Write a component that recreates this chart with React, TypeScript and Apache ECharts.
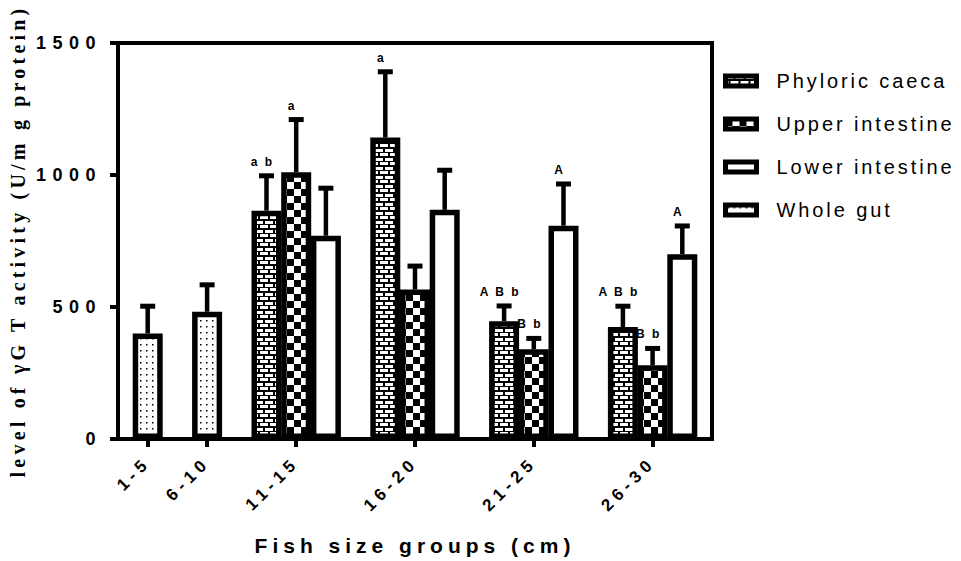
import React, { useEffect, useRef } from 'react';
import * as echarts from 'echarts';

const groups = ['1-5', '6-10', '11-15', '16-20', '21-25', '26-30'];
const seriesNames = ['Phyloric caeca', 'Upper intestine', 'Lower intestine', 'Whole gut'];
const phyloricMean = [null, null, 865, 1142, 446, 424];
const phyloricSD = [null, null, 132, 249, 58, 79];
const upperMean = [null, null, 1010, 566, 340, 279];
const upperSD = [null, null, 200, 89, 41, 64];
const lowerMean = [null, null, 770, 868, 808, 700];
const lowerSD = [null, null, 180, 150, 158, 107];
const wholeMean = [400, 482, null, null, null, null];
const wholeSD = [103, 102, null, null, null, null];
const phyloricLetters = ['', '', 'a b', 'a', 'A B b', 'A B b'];
const upperLetters = ['', '', 'a', '', 'B b', 'B b'];
const lowerLetters = ['', '', '', '', 'A', 'A'];
const wholeLetters = ['', '', '', '', '', ''];
const yMin = 0;
const yMax = 1500;
const yInterval = 500;
const xTitle = 'Fish size groups (cm)';
const yTitle = 'level of \u03b3G T activity (U/m g protein)';

const SANS = 'Liberation Sans';
const SERIF = 'Liberation Serif';

function makeCanvas(w: number, h: number, draw: (ctx: CanvasRenderingContext2D) => void) {
  const c = document.createElement('canvas');
  c.width = w;
  c.height = h;
  const ctx = c.getContext('2d')!;
  draw(ctx);
  return c;
}

function brickPattern() {
  return makeCanvas(10, 9, (ctx) => {
    ctx.fillStyle = '#000';
    ctx.fillRect(0, 0, 10, 9);
    ctx.fillStyle = '#fff';
    ctx.fillRect(0, 0, 8, 3);
    ctx.fillRect(5, 5, 5, 3);
    ctx.fillRect(0, 5, 3, 3);
  });
}
function checkerPattern() {
  return makeCanvas(14, 14, (ctx) => {
    ctx.fillStyle = '#fff';
    ctx.fillRect(0, 0, 14, 14);
    ctx.fillStyle = '#000';
    ctx.fillRect(0, 0, 7, 7);
    ctx.fillRect(7, 7, 7, 7);
  });
}
function whitePattern() {
  return '#ffffff';
}
function dotPattern() {
  return makeCanvas(6, 6, (ctx) => {
    ctx.fillStyle = '#fff';
    ctx.fillRect(0, 0, 6, 6);
    ctx.fillStyle = '#000';
    ctx.fillRect(2, 2, 1.5, 1.5);
  });
}

export default function App() {
  const ref = useRef<HTMLDivElement>(null);
  useEffect(() => {
    if (!ref.current) return;
    const chart = echarts.init(ref.current, null, { renderer: 'svg' });

    const means = [phyloricMean, upperMean, lowerMean, wholeMean];
    const sds = [phyloricSD, upperSD, lowerSD, wholeSD];
    const letters = [phyloricLetters, upperLetters, lowerLetters, wholeLetters];

    // slot layout: leading empty slot, bars of each group side by side, one empty slot after each group
    const slotOf: (number | null)[][] = means.map(() => groups.map(() => null));
    const centerLabel: Record<number, string> = {};
    let slot = 1;
    groups.forEach((g, gi) => {
      const start = slot;
      means.forEach((m, si) => {
        if (m[gi] != null) {
          slotOf[si][gi] = slot;
          slot++;
        }
      });
      centerLabel[(start + slot - 1) / 2] = g;
      slot++;
    });
    const nSlots = slot;
    const categories = Array.from({ length: nSlots }, (_, i) => 's' + i);

    const fills: any[] = [
      { image: brickPattern(), repeat: 'repeat' },
      { image: checkerPattern(), repeat: 'repeat' },
      whitePattern(),
      { image: dotPattern(), repeat: 'repeat' },
    ];

    const barSeries = means.map((m, si) => {
      const data: (number | null)[] = new Array(nSlots).fill(null);
      groups.forEach((_, gi) => {
        const s = slotOf[si][gi];
        if (s != null) data[s] = m[gi];
      });
      return {
        type: 'bar',
        name: seriesNames[si],
        data,
        barWidth: 30,
        barGap: '-100%',
        itemStyle: { color: fills[si], borderColor: '#000', borderWidth: 5.5 },
        z: 3,
      };
    });

    const errData: number[][] = [];
    const annoData: number[][] = [];
    const annoText: string[] = [];
    means.forEach((m, si) => {
      groups.forEach((_, gi) => {
        const s = slotOf[si][gi];
        if (s == null) return;
        errData.push([s, m[gi] as number, sds[si][gi] as number]);
        const t = letters[si][gi];
        if (t) {
          annoData.push([s, (m[gi] as number) + (sds[si][gi] as number)]);
          annoText.push(t);
        }
      });
    });

    const errorSeries = {
      type: 'custom',
      data: errData,
      encode: { x: 0, y: 1 },
      z: 4,
      silent: true,
      renderItem: (params: any, api: any) => {
        const x = api.value(0);
        const m = api.value(1);
        const s = api.value(2);
        const p0 = api.coord([x, m]);
        const p1 = api.coord([x, m + s]);
        return {
          type: 'group',
          children: [
            { type: 'line', shape: { x1: p0[0], y1: p0[1], x2: p1[0], y2: p1[1] }, style: { stroke: '#000', lineWidth: 4.5 } },
            { type: 'line', shape: { x1: p1[0] - 7.5, y1: p1[1], x2: p1[0] + 7.5, y2: p1[1] }, style: { stroke: '#000', lineWidth: 5 } },
          ],
        };
      },
    };

    const annoSeries = {
      type: 'custom',
      data: annoData,
      encode: { x: 0, y: 1 },
      z: 5,
      silent: true,
      renderItem: (params: any, api: any) => {
        const p = api.coord([api.value(0), api.value(1)]);
        return {
          type: 'text',
          x: p[0] - 4,
          y: p[1] - 8,
          style: {
            text: annoText[params.dataIndex],
            fill: '#000',
            font: `bold 12px ${SANS}`,
            align: 'center',
            verticalAlign: 'bottom',
            textAlign: 'center',
            textVerticalAlign: 'bottom',
          },
        };
      },
    };

    chart.setOption({
      animation: false,
      grid: {
        left: 114,
        right: 249,
        top: 43,
        bottom: 120,
        show: true,
        borderColor: '#000',
        borderWidth: 4,
        backgroundColor: 'transparent',
      },
      legend: {
        orient: 'vertical',
        left: 723,
        top: 71,
        padding: 0,
        itemWidth: 31,
        itemHeight: 10,
        itemGap: 23,
        icon: 'rect',
        selectedMode: false,
        data: seriesNames,
        itemStyle: { borderColor: '#000', borderWidth: 5 },
        textStyle: { fontSize: 20, fontFamily: SANS, color: '#000', padding: [0, 0, 0, 15] },
      },
      xAxis: {
        type: 'category',
        data: categories,
        boundaryGap: false,
        name: xTitle,
        nameLocation: 'middle',
        nameGap: 96,
        nameTextStyle: { fontSize: 21, fontWeight: 'bold', fontFamily: SANS, color: '#000' },
        axisLine: { show: true, lineStyle: { color: '#000', width: 4 } },
        axisTick: {
          show: true,
          length: 8,
          lineStyle: { color: '#000', width: 4 },
          interval: (index: number) => centerLabel[index] !== undefined,
        },
        axisLabel: {
          rotate: 45,
          margin: 21,
          fontSize: 17,
          fontWeight: 'bold',
          fontFamily: SANS,
          color: '#000',
          interval: (index: number) => centerLabel[index] !== undefined,
          formatter: (_v: string, index: number) => centerLabel[index] ?? '',
        },
        splitLine: { show: false },
      },
      yAxis: {
        type: 'value',
        min: yMin,
        max: yMax,
        interval: yInterval,
        name: yTitle,
        nameLocation: 'middle',
        nameGap: 90,
        nameTextStyle: { fontSize: 20, fontWeight: 'bold', fontFamily: SERIF, color: '#000' },
        axisLine: { show: true, lineStyle: { color: '#000', width: 4 } },
        axisTick: { show: true, length: 8, lineStyle: { color: '#000', width: 4 } },
        axisLabel: {
          margin: 16,
          fontSize: 18,
          fontWeight: 'bold',
          fontFamily: SANS,
          color: '#000',
          formatter: (v: number) => String(v),
        },
        splitLine: { show: false },
      },
      series: [...barSeries, errorSeries, annoSeries],
    });
    return () => chart.dispose();
  }, []);

  return (
    <>
      <style>{`
        #chart text[style*="20px"] { letter-spacing: 2.9px; }
        #chart text[style*="Serif"] { letter-spacing: 4.2px; }
        #chart text[style*="21px"] { letter-spacing: 5px; }
        #chart text[style*="17px"] { letter-spacing: 5px; }
        #chart text[style*="18px"] { letter-spacing: 6.5px; }
        #chart text[style*="12px"] { letter-spacing: 2px; }
      `}</style>
      <div
        id="chart"
        ref={ref}
        style={{ position: 'fixed', left: 0, top: 0, width: 961, height: 561, background: '#fff' }}
      />
    </>
  );
}
